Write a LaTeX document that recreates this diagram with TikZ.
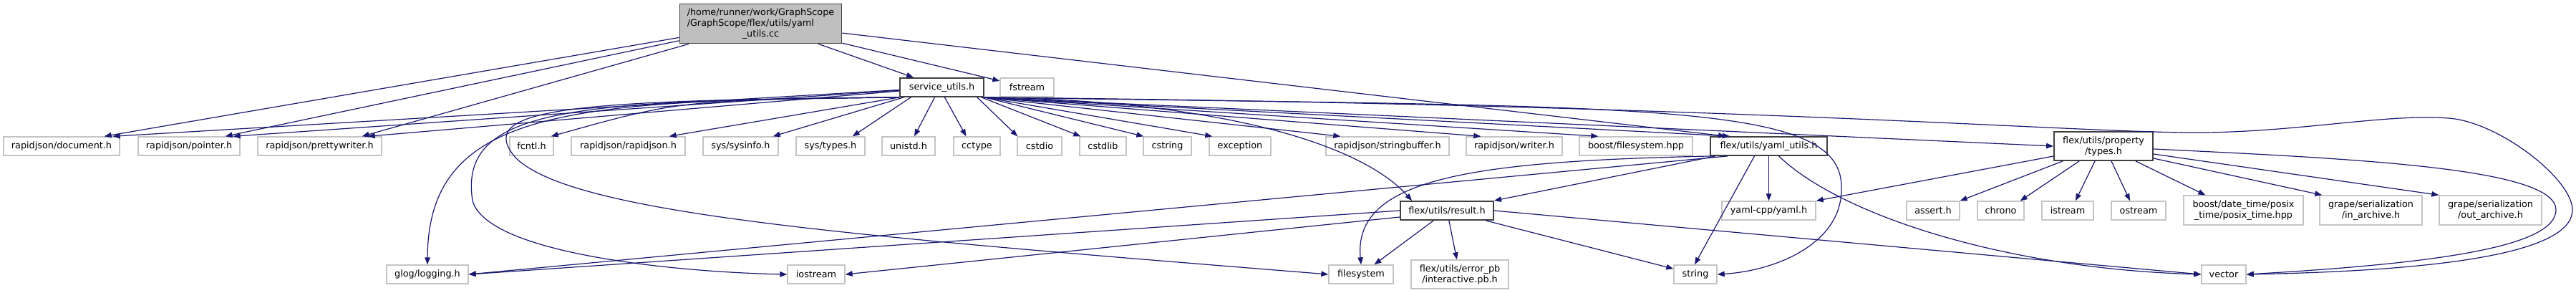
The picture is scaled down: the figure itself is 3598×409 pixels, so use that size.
\documentclass[tikz,border=0pt]{standalone}
\usepackage{fontspec}
\setmainfont{DejaVu Sans}
\usetikzlibrary{arrows.meta,calc}
\definecolor{eb}{HTML}{191970}
\definecolor{gb}{HTML}{BFBFBF}
\definecolor{lb}{HTML}{C4C4C4}
\definecolor{db}{HTML}{404040}
\begin{document}
\begin{tikzpicture}[x=1pt,y=-1pt,
  box/.style={draw, rectangle, inner sep=0pt, font=\fontsize{12.8}{15}\selectfont, align=center},
  ext/.style={box, draw=lb, fill=white, line width=1.4pt},
  int/.style={box, draw=db, fill=white, line width=1.8pt},
  rootn/.style={box, draw=db, fill=gb, line width=1.8pt},
  e/.style={draw=eb, line width=1.2pt, -{Triangle[length=10pt,width=7.5pt]}},
]
\useasboundingbox (0,0) rectangle (3598,409);
\fill[white] (0,0) rectangle (3598,409);
% layer 0
\node[rootn, minimum width=226pt, minimum height=55pt, align=left] (root) at (1062.5,33) {/home/runner/work/GraphScope\\/GraphScope/flex/utils/yaml\\\hspace*{77pt}\_utils.cc};
% layer 1
\node[int, minimum width=117pt, minimum height=26pt] (su) at (1315.5,122) {service\_utils.h};
\node[ext, minimum width=75pt, minimum height=26pt] (fs) at (1434.5,122) {fstream};
% layer 2
\node[ext, minimum width=162pt, minimum height=26pt] (doc) at (86,204) {rapidjson/document.h};
\node[ext, minimum width=142pt, minimum height=26pt] (ptr) at (264,204) {rapidjson/pointer.h};
\node[ext, minimum width=173pt, minimum height=26pt] (pw) at (446.5,204) {rapidjson/prettywriter.h};
\node[ext, minimum width=61pt, minimum height=26pt] (fc) at (742.5,204) {fcntl.h};
\node[ext, minimum width=159pt, minimum height=26pt] (rj) at (877.5,204) {rapidjson/rapidjson.h};
\node[ext, minimum width=105pt, minimum height=26pt] (si) at (1034.5,204) {sys/sysinfo.h};
\node[ext, minimum width=96pt, minimum height=26pt] (st) at (1160,204) {sys/types.h};
\node[ext, minimum width=74pt, minimum height=26pt] (ut) at (1269,204) {unistd.h};
\node[ext, minimum width=65pt, minimum height=26pt] (cc) at (1364.5,204) {cctype};
\node[ext, minimum width=62pt, minimum height=26pt] (cd) at (1452,204) {cstdio};
\node[ext, minimum width=65pt, minimum height=26pt] (cl) at (1540.5,204) {cstdlib};
\node[ext, minimum width=67pt, minimum height=26pt] (cs) at (1630.5,204) {cstring};
\node[ext, minimum width=86pt, minimum height=26pt] (ex) at (1732,204) {exception};
\node[ext, minimum width=172pt, minimum height=26pt] (sb) at (1938,204) {rapidjson/stringbuffer.h};
\node[ext, minimum width=134pt, minimum height=26pt] (wr) at (2115,204) {rapidjson/writer.h};
\node[ext, minimum width=158pt, minimum height=26pt] (bf) at (2285,204) {boost/filesystem.hpp};
\node[int, minimum width=163pt, minimum height=26pt] (yu) at (2470.5,204) {flex/utils/yaml\_utils.h};
\node[int, minimum width=138pt, minimum height=40pt] (ty) at (2938,204) {flex/utils/property\\/types.h};
% layer 3
\node[int, minimum width=130pt, minimum height=26pt] (res) at (2021,294) {flex/utils/result.h};
\node[ext, minimum width=131pt, minimum height=26pt] (yc) at (2470.5,294) {yaml-cpp/yaml.h};
\node[ext, minimum width=74pt, minimum height=26pt] (as) at (2700,294) {assert.h};
\node[ext, minimum width=65pt, minimum height=26pt] (ch) at (2794.5,294) {chrono};
\node[ext, minimum width=72pt, minimum height=26pt] (is) at (2888,294) {istream};
\node[ext, minimum width=76pt, minimum height=26pt] (os) at (2987,294) {ostream};
\node[ext, minimum width=167pt, minimum height=41pt] (bdt) at (3133.5,293.5) {boost/date\_time/posix\\\_time/posix\_time.hpp};
\node[ext, minimum width=143pt, minimum height=41pt] (ina) at (3311.5,293.5) {grape/serialization\\/in\_archive.h};
\node[ext, minimum width=143pt, minimum height=41pt] (outa) at (3478.5,293.5) {grape/serialization\\/out\_archive.h};
% layer 4
\node[ext, minimum width=114pt, minimum height=26pt] (glog) at (597,383) {glog/logging.h};
\node[ext, minimum width=80pt, minimum height=26pt] (ios) at (1140,383) {iostream};
\node[ext, minimum width=90pt, minimum height=26pt] (fsys) at (1901,383) {filesystem};
\node[ext, minimum width=136pt, minimum height=40pt] (epb) at (2039,383) {flex/utils/error\_pb\\/interactive.pb.h};
\node[ext, minimum width=60pt, minimum height=26pt] (str) at (2368,383) {string};
\node[ext, minimum width=62pt, minimum height=26pt] (vec) at (3106,383) {vector};

% root edges
\draw[e] (root) -- (su);
\draw[e] (root) -- (fs);
\draw[e] (root) -- ([xshift=22pt]yu.north west);
\draw[e] (root) -- ([xshift=-22pt]doc.north east);
\draw[e] (root) -- ([xshift=-21pt]ptr.north east);
\draw[e] (root) -- ([xshift=-28pt]pw.north east);
% service_utils edges
\draw[e] (su) -- ([xshift=-10pt]doc.north east);
\draw[e] (su) -- ([xshift=-10pt]ptr.north east);
\draw[e] (su) -- ([xshift=-20pt]pw.north east);
\draw[e] (su.south west) .. controls (950,140) .. ([xshift=-4pt]fc.north east);
\draw[e] (su.south west) -- ([xshift=-23pt]rj.north east);
\draw[e] ([xshift=6pt]su.south west) -- ([xshift=-8pt]si.north east);
\draw[e] ([xshift=16pt]su.south west) -- ([xshift=-18pt]st.north east);
\draw[e] ([xshift=-10pt]su.south) -- ([xshift=8pt]ut.north);
\draw[e] ([xshift=4pt]su.south) -- ([xshift=-15pt]cc.north);
\draw[e] ([xshift=-10pt]su.south east) -- ([xshift=1pt]cd.north west);
\draw[e] ([xshift=-4pt]su.south east) -- ([xshift=2pt]cl.north west);
\draw[e] (su.south east) -- ([xshift=1pt]cs.north west);
\draw[e] (su.south east) -- ([xshift=5pt]ex.north west);
\draw[e] (su.south east) -- ([xshift=21pt]sb.north west);
\draw[e] (su.south east) -- ([xshift=21pt]wr.north west);
\draw[e] (su.south east) -- ([xshift=27pt]bf.north west);
\draw[e] (su.south east) -- ([xshift=28pt]yu.north west);
\draw[e] (su.south east) -- (ty.west);
\draw[e] (su.south west) .. controls (800,140) and (598,150) .. (glog.north);
\draw[e] (su.south west) .. controls (800,140) and (640,150) .. (660,280) .. controls (680,355) and (950,380) .. (ios.west);
\draw[e] (su.south west) .. controls (800,140) and (660,150) .. (720,220) .. controls (800,300) and (1200,330) .. (fsys.west);
\draw[e] (su.south east) .. controls (1700,140) and (1900,200) .. ([xshift=17pt]res.north west);
\draw[e] (su.south east) .. controls (2300,150) and (2570,140) .. (2572,260) .. controls (2575,340) and (2480,378) .. (str.east);
\draw[e] (su.south east) .. controls (2400,146) and (2850,182) .. (3050,185) .. controls (3200,187) and (3330,158) .. (3420,165) .. controls (3490,170) and (3593,250) .. (3593,293) .. controls (3593,355) and (3400,378) .. (vec.east);
% yaml_utils edges
\draw[e] ([xshift=25pt]yu.south west) -- (glog.east);
\draw[e] ([xshift=3pt]yu.south west) .. controls (2050,225) and (1890,250) .. (fsys.north);
\draw[e] ([xshift=8pt]yu.south west) -- (res.north east);
\draw[e] ([xshift=-20pt]yu.south) -- ([xshift=-1pt]str.north);
\draw[e] (yu) -- (yc);
\draw[e] ([xshift=14pt]yu.south) .. controls (2570,300) and (2800,375) .. (vec.west);
% result edges
\draw[e] (res.west) -- (glog.east);
\draw[e] ([yshift=-9pt]res.west) -- (ios.east);
\draw[e] (res) -- (fsys);
\draw[e] (res) -- (epb);
\draw[e] (res) -- (str);
\draw[e] (res.east) -- (vec.west);
% types edges
\draw[e] ([yshift=-14pt]ty.west) -- (yc.north east);
\draw[e] ([xshift=13pt]ty.south west) -- (as.north east);
\draw[e] ([xshift=36pt]ty.south west) -- ([xshift=-6pt]ch.north east);
\draw[e] ([xshift=-12pt]ty.south) -- ([xshift=11pt]is.north);
\draw[e] ([xshift=11pt]ty.south) -- ([xshift=-12pt]os.north);
\draw[e] ([xshift=-25pt]ty.south east) -- ([xshift=31pt]bdt.north west);
\draw[e] ([yshift=-17pt]ty.east) -- ([xshift=4pt]ina.north west);
\draw[e] ([yshift=-11pt]ty.east) -- (outa.north west);
\draw[e] ([yshift=-4pt]ty.east) .. controls (3300,222) and (3570,235) .. (3570,293) .. controls (3570,345) and (3400,368) .. (vec.east);
\end{tikzpicture}
\end{document}
